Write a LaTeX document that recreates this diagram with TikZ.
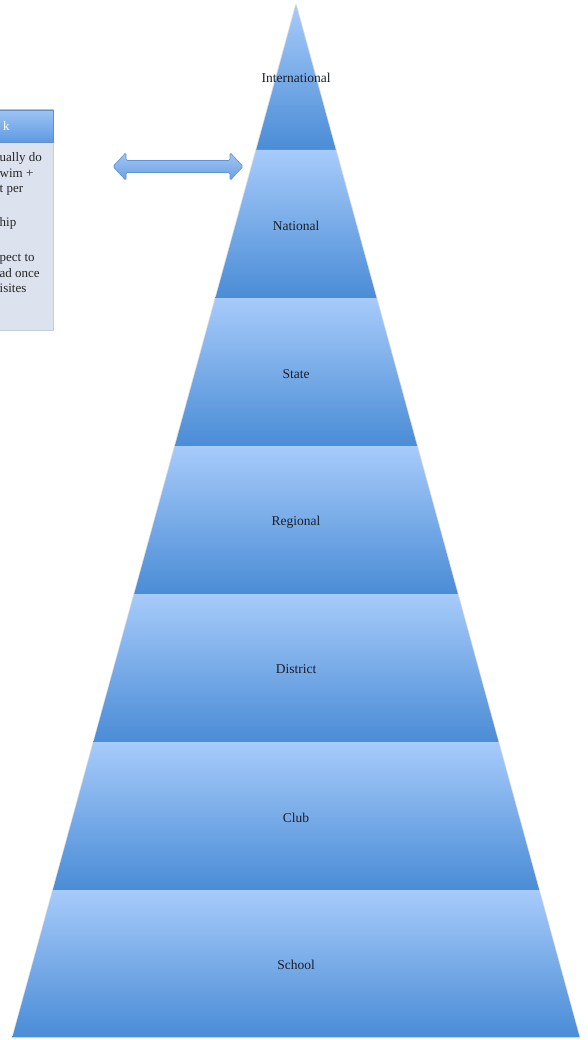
\documentclass[tikz,border=0pt]{standalone}
\usepackage{fontspec}
\setmainfont{Liberation Serif}
\usetikzlibrary{calc}
\definecolor{laytop}{HTML}{A7CBFA}
\definecolor{laybot}{HTML}{4A8CD6}
\definecolor{boxfill}{HTML}{DCE2EE}
\definecolor{boxline}{HTML}{C4CDDE}
\definecolor{headtop}{HTML}{9EC3F3}
\definecolor{headbot}{HTML}{5E9BE2}
\definecolor{arrtop}{HTML}{A3C6F2}
\definecolor{arrbot}{HTML}{6A9FE3}
\definecolor{arrline}{HTML}{5E93D6}
\definecolor{labtext}{HTML}{1A1F2A}
\tikzset{
  layer/.style={top color=laytop, bottom color=laybot, draw=none},
  lab/.style={font=\fontsize{13.5}{15}\selectfont, text=labtext, inner sep=0pt},
  boxtext/.style={font=\fontsize{13}{15}\selectfont, text=black!85, inner sep=0pt, anchor=base west},
  headtext/.style={font=\fontsize{13}{15}\selectfont, text=white, inner sep=0pt, anchor=base west},
  blockarrow/.style={top color=arrtop, bottom color=arrbot, draw=arrline, line width=0.6pt, rounded corners=1.5pt}
}
\begin{document}
\begin{tikzpicture}[x=1pt,y=-1pt]
\useasboundingbox (0,0) rectangle (587,1040);
\clip (0,0) rectangle (587,1040);
\fill[white] (0,0) rectangle (587,1040);
% side box
\path[fill=boxfill, draw=boxline, line width=0.8pt] (-20,142) rectangle (53.5,330);
\path[top color=headtop, bottom color=headbot, draw=headbot!85!black!90, line width=0.6pt] (-20,110) rectangle (53.5,142);
\node[headtext] (hk) at (3,131) {k};
\node[boxtext] (b1) at (-0.5,162) {ually do};
\node[boxtext] (b2) at (-0.5,177.5) {wim +};
\node[boxtext] (b3) at (-0.5,193) {t per};
\node[boxtext] (b4) at (-0.5,227) {hip};
\node[boxtext] (b5) at (-0.5,262) {pect to};
\node[boxtext] (b6) at (-0.5,277.5) {ad once};
\node[boxtext] (b7) at (-0.5,293) {isites};
% double block arrow
\path[blockarrow] (113,166.5) -- (126,152.5) -- (126,160.5) -- (230,160.5) -- (230,152.5) -- (243,166.5) -- (230,180.5) -- (230,172.5) -- (126,172.5) -- (126,180.5) -- cycle;
% faint shadow of the pyramid
\path[draw=black!12, line width=1.6pt, line join=round] (296,5) -- (579.5,1037.5) -- (12.5,1037.5) -- cycle;
% pyramid layers
\path[layer] (296,5) -- (335.8,150) -- (256.2,150) -- cycle;
\path[layer] (256.2,150) -- (335.8,150) -- (376.5,298) -- (215.5,298) -- cycle;
\path[layer] (215.5,298) -- (376.5,298) -- (417.1,446) -- (174.9,446) -- cycle;
\path[layer] (174.9,446) -- (417.1,446) -- (457.8,594) -- (134.2,594) -- cycle;
\path[layer] (134.2,594) -- (457.8,594) -- (498.5,742) -- (93.5,742) -- cycle;
\path[layer] (93.5,742) -- (498.5,742) -- (539.1,890) -- (52.9,890) -- cycle;
\path[layer] (52.9,890) -- (539.1,890) -- (579.5,1037) -- (12.5,1037) -- cycle;
% labels
\node[lab] (l1) at (296,78) {International};
\node[lab] (l2) at (296,226) {National};
\node[lab] (l3) at (296,374) {State};
\node[lab] (l4) at (296,522) {Regional};
\node[lab] (l5) at (296,669) {District};
\node[lab] (l6) at (296,818) {Club};
\node[lab] (l7) at (296,965) {School};
\end{tikzpicture}
\end{document}
